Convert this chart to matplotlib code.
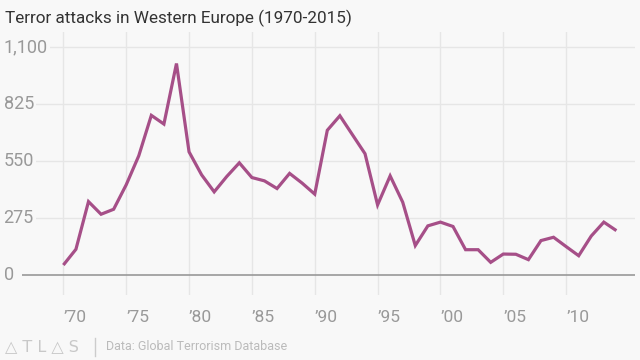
import matplotlib
matplotlib.use("Agg")
import matplotlib.pyplot as plt

years = [1970, 1971, 1972, 1973, 1974, 1975, 1976, 1977, 1978, 1979,
         1980, 1981, 1982, 1983, 1984, 1985, 1986, 1987, 1988, 1989,
         1990, 1991, 1992, 1994, 1995, 1996, 1997, 1998, 1999,
         2000, 2001, 2002, 2003, 2004, 2005, 2006, 2007, 2008, 2009,
         2010, 2011, 2012, 2013, 2014]
attacks = [48, 124, 354, 293, 317, 435, 575, 770, 728, 1020,
           594, 483, 401, 475, 541, 470, 454, 417, 490, 443,
           390, 698, 768, 585, 338, 478, 351, 142, 237,
           255, 234, 122, 122, 61, 101, 100, 74, 166, 182,
           137, 93, 188, 255, 214]
y_ticks = [0, 275, 550, 825, 1100]
y_labels = ["0", "275", "550", "825", "1,100"]
x_ticks = [1970, 1975, 1980, 1985, 1990, 1995, 2000, 2005, 2010]
x_labels = ["\u201970", "\u201975", "\u201980", "\u201985", "\u201990",
            "\u201995", "\u201900", "\u201905", "\u201910"]

BG = "#f8f8f8"
W, H = 640, 360
fig = plt.figure(figsize=(6.4, 3.6), dpi=100, facecolor=BG)
ax = fig.add_axes([22 / W, 1 - 295 / H, (635 - 22) / W, (295 - 32) / H])
ax.set_facecolor(BG)
ax.set_xlim(1966.71, 2015.48)
ax.set_ylim(-96.5, 1172)
for s in ax.spines.values():
    s.set_visible(False)
ax.tick_params(left=False, bottom=False, labelleft=False, labelbottom=False)

grid_c = "#e6e6e6"
for t in y_ticks[1:]:
    ax.axhline(t, color=grid_c, lw=1, zorder=1)
for t in x_ticks:
    ax.axvline(t, color=grid_c, lw=1, zorder=1)
ax.axhline(0, color="#999999", lw=1.2, zorder=2)

ax.plot(years, attacks, color="#a64f88", lw=2.3, zorder=3,
        solid_joinstyle="miter", solid_capstyle="butt")

font = "Roboto"
for t, lab in zip(y_ticks, y_labels):
    ax.text(-0.03, t, lab, transform=ax.get_yaxis_transform(),
            ha="left", va="center", fontsize=13, color="#999999",
            family=font, zorder=4,
            bbox=dict(facecolor=BG, edgecolor="none", pad=1.5))

for t, lab in zip(x_ticks, x_labels):
    ax.text(t, -0.087, lab, transform=ax.get_xaxis_transform(),
            ha="left", va="center", fontsize=12.5, color="#999999",
            family=font, zorder=4)

fig.text(5 / W, 1 - 18 / H, "Terror attacks in Western Europe (1970-2015)",
         ha="left", va="center", fontsize=12.3, color="#333333", family=font)

fig.text(5 / W, 1 - 347 / H, "\u25B3 T L \u25B3 S", ha="left", va="center",
         fontsize=11.5, color="#c8c8c8", family="DejaVu Sans")
fig.add_artist(plt.Line2D([95 / W, 95 / W], [1 - 338 / H, 1 - 356 / H],
                          color="#cccccc", lw=1))
fig.text(106 / W, 1 - 347 / H, "Data: Global Terrorism Database", ha="left",
         va="center", fontsize=9, color="#bbbbbb", family=font)

fig.savefig("out.png", dpi=100, facecolor=BG)
